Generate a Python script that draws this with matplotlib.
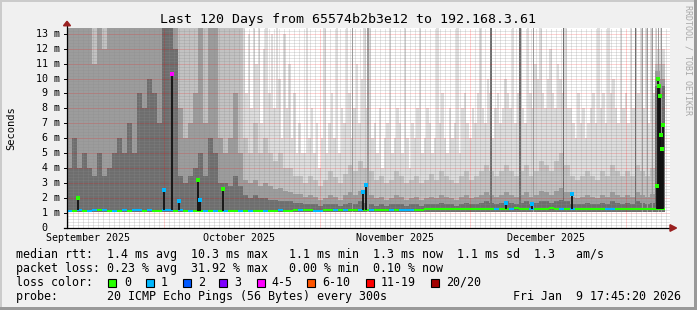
import numpy as np
import matplotlib.pyplot as plt
from matplotlib.patches import Rectangle, Polygon
from datetime import datetime, timedelta

# ---- data ----
now = datetime(2026, 1, 9, 17, 45, 20)
start = now - timedelta(days=120)

# outermost smoke layer (max ping), one value per half day, ms
smoke_l1_half = ([20] * 70 +
                 [14, 9, 13, 8, 14, 11, 14, 7, 12, 14, 9, 13, 8, 14, 10, 6, 13, 8, 11, 6, 9, 5, 7, 5,
                  5, 14, 6, 8, 5, 7,
                  4, 6, 14, 5, 7, 9, 6, 14, 5, 8, 7, 14, 9, 6, 8, 11, 7, 10, 14, 8,
                  14, 6, 7, 5, 8, 4, 6, 7, 14, 5, 6, 8, 7, 5, 14, 6, 4, 7, 6, 8,
                  14, 5, 6, 8, 7, 5, 6, 14, 7, 9, 6, 5, 8, 6, 7, 14, 5, 8, 9, 7,
                  6, 8, 7, 9, 14, 8, 7, 10, 9, 6, 8, 9, 7, 8, 10, 9, 8, 14, 7, 9,
                  14, 8, 7, 14, 9, 8, 11, 10, 14, 9, 8, 10, 12, 9, 8, 11, 10, 9, 14, 8,
                  8, 7, 6, 9, 7, 8, 6, 7, 8, 9, 7, 14, 8, 9, 7, 14, 9, 10, 8, 7,
                  14, 8, 9, 7, 14, 8, 14, 9, 14, 8, 14, 7, 14, 9,
                  20, 12, 20, 12])

# inner smoke layers, one value per day, ms (lighter to darker)
smoke_l2 = [20, 20, 20, 20, 20, 20, 20, 20, 20, 20,
            20, 20, 20, 20, 20, 20, 20, 20, 20, 20,
            20, 20, 20, 20, 20, 20, 20, 20, 20, 20,
            20, 20, 20, 20, 20, 6, 5, 7, 5, 6,
            5, 4.5, 5, 4, 4, 3.5, 3.5, 3, 3.5, 3.2,
            2.8, 3.2, 3.8, 3.4, 3, 3.6, 4.2, 3.8, 4.5, 4,
            3.8, 3.2, 3.5, 3, 3.2, 3.8, 3.5, 3, 3.2, 3.5,
            3, 3.2, 3.6, 3.2, 3.8, 3.5, 3.2, 3, 3.5, 3.8,
            3.2, 3.5, 3.8, 4.2, 3.8, 3.5, 3.8, 4.2, 3.8, 3.5,
            3.8, 4.2, 3.5, 3.8, 4.5, 4.2, 3.8, 4.5, 5, 4.2,
            3.5, 3.2, 3.5, 3.8, 3.5, 3.2, 3.8, 3.5, 4.2, 3.8,
            3.5, 3.8, 3.5, 4.2, 3.8, 3.5, 4, 11, 11]
smoke_l3 = [20, 20, 20, 20, 20, 11, 20, 12, 20, 20,
            20, 20, 20, 20, 20, 20, 20, 20, 20, 20,
            20, 20, 8, 6, 7, 9, 20, 7, 20, 20,
            6, 5, 6, 9, 5, 3.2, 3, 3.2, 2.8, 3,
            2.8, 2.6, 2.7, 2.5, 2.4, 2.3, 2.3, 2.1, 2.2, 2.1,
            1.9, 2, 2.2, 2.1, 1.9, 2.2, 2.4, 2.2, 2.5, 2.3,
            2.2, 2, 2.1, 1.9, 2, 2.2, 2.1, 1.9, 2, 2.1,
            1.9, 2, 2.1, 2, 2.2, 2.1, 2, 1.9, 2.1, 2.2,
            2, 2.1, 2.2, 2.4, 2.2, 2.1, 2.2, 2.4, 2.2, 2.1,
            2.2, 2.4, 2.1, 2.2, 2.5, 2.4, 2.2, 2.5, 2.7, 2.4,
            2.1, 2, 2.1, 2.2, 2.1, 2, 2.2, 2.1, 2.4, 2.2,
            2.1, 2.2, 2.1, 2.4, 2.2, 2.1, 2.3, 10.5, 10]
smoke_l4 = [4, 6, 4, 5, 4, 3.5, 5, 3.5, 4, 5,
            6, 5, 7, 5, 9, 8, 10, 9, 7, 20,
            20, 12, 3.5, 3, 3.5, 4, 5, 3.5, 6, 5,
            3, 3, 2.8, 3.5, 2.8, 2.2, 2, 2.2, 2, 2,
            1.9, 1.9, 1.8, 1.8, 1.8, 1.7, 1.7, 1.6, 1.6, 1.6,
            1.5, 1.6, 1.6, 1.6, 1.5, 1.6, 1.7, 1.6, 1.8, 1.7,
            1.6, 1.5, 1.6, 1.5, 1.6, 1.6, 1.6, 1.5, 1.6, 1.6,
            1.5, 1.6, 1.6, 1.6, 1.7, 1.6, 1.6, 1.5, 1.6, 1.7,
            1.6, 1.6, 1.7, 1.8, 1.7, 1.6, 1.7, 1.8, 1.7, 1.6,
            1.7, 1.8, 1.6, 1.7, 1.8, 1.8, 1.7, 1.8, 1.9, 1.8,
            1.6, 1.6, 1.6, 1.7, 1.6, 1.6, 1.7, 1.6, 1.8, 1.7,
            1.6, 1.7, 1.6, 1.8, 1.7, 1.6, 1.7, 9.5, 9.5]
min_rtt = 1.05

median_rtt = [1.15, 1.15, 1.18, 1.15, 1.15, 1.2, 1.18, 1.2, 1.15, 1.15,
              1.15, 1.18, 1.15, 1.2, 1.18, 1.15, 1.18, 1.15, 1.15, 1.2,
              1.18, 1.15, 1.18, 1.15, 1.15, 1.12, 1.15, 1.15, 1.12, 1.15,
              1.12, 1.15, 1.12, 1.12, 1.15, 1.15, 1.12, 1.15, 1.15, 1.12,
              1.15, 1.15, 1.18, 1.15, 1.15, 1.18, 1.2, 1.18, 1.2, 1.15,
              1.15, 1.18, 1.2, 1.18, 1.2, 1.2, 1.18, 1.2, 1.22, 1.2,
              1.22, 1.2, 1.2, 1.22, 1.2, 1.2, 1.18, 1.2, 1.18, 1.2,
              1.22, 1.25, 1.25, 1.28, 1.25, 1.25, 1.28, 1.25, 1.25, 1.28,
              1.3, 1.28, 1.3, 1.28, 1.3, 1.3, 1.28, 1.3, 1.3, 1.32,
              1.3, 1.28, 1.3, 1.3, 1.28, 1.3, 1.32, 1.3, 1.28, 1.3,
              1.3, 1.28, 1.3, 1.25, 1.28, 1.28, 1.3, 1.28, 1.25, 1.28,
              1.28, 1.3, 1.28, 1.3, 1.28, 1.3, 1.3, 1.3, 1.3]
loss_pings = [1, 0, 1, 0, 1, 1, 0, 1, 0, 1,
              0, 1, 0, 1, 1, 0, 1, 0, 0, 1,
              1, 0, 1, 0, 1, 0, 0, 1, 0, 1,
              0, 1, 0, 0, 1, 0, 1, 0, 0, 1,
              0, 0, 1, 0, 0, 0, 1, 0, 0, 1,
              1, 0, 0, 1, 0, 1, 0, 0, 1, 0,
              1, 0, 0, 0, 1, 0, 1, 1, 1, 0,
              0, 0, 0, 0, 0, 0, 0, 0, 0, 0,
              0, 0, 0, 0, 0, 1, 0, 0, 1, 0,
              0, 0, 1, 0, 0, 0, 0, 0, 1, 0,
              1, 0, 0, 0, 0, 0, 0, 1, 1, 0,
              0, 0, 0, 0, 0, 0, 0, 0, 0]

# short median excursions inside a day: day offset, median ms, lost pings
spike_day = [2.2, 19.3, 20.9, 22.3, 26.1, 26.5, 31.0, 58.9, 59.6, 87.4,
             92.5, 100.5, 117.4, 117.7, 117.9, 118.1, 118.3, 118.5, 118.7]
spike_rtt = [2.0, 2.55, 10.3, 1.8, 3.2, 1.9, 2.6, 2.4, 2.9, 1.7,
             1.6, 2.3, 2.8, 10.0, 9.5, 8.8, 6.2, 5.3, 6.9]
spike_loss = [0, 1, 4, 1, 0, 1, 0, 1, 1, 1,
              1, 1, 0, 0, 0, 0, 0, 0, 0]

# thin darker full-height streaks: day offset, layer (1 mid .. 2 dark)
streak_day = [56.7, 59.7, 84.2, 90.0, 92.7, 98.7, 113.0, 114.4, 115.4, 116.4, 117.6, 118.2]
streak_layer = [1, 1, 2, 2, 1, 2, 2, 1, 1, 1, 1, 1]

loss_labels = ['0', '1', '2', '3', '4-5', '6-10', '11-19', '20/20']
loss_colors = ['#26ff00', '#00b8ff', '#0059ff', '#7e00ff',
               '#ff00ff', '#ff5500', '#ff0000', '#a10000']

title = 'Last 120 Days from 65574b2b3e12 to 192.168.3.61'
rows = ['median rtt:  1.4 ms avg  10.3 ms max   1.1 ms min  1.3 ms now  1.1 ms sd  1.3   am/s',
        'packet loss: 0.23 % avg  31.92 % max   0.00 % min  0.10 % now',
        'loss color:',
        'probe:       20 ICMP Echo Pings (56 Bytes) every 300s']
stamp = 'Fri Jan  9 17:45:20 2026'


def loss_color(n):
    if n <= 3:
        return loss_colors[n]
    if n <= 5:
        return loss_colors[4]
    if n <= 10:
        return loss_colors[5]
    if n < 20:
        return loss_colors[6]
    return loss_colors[7]


def day_of(d):
    return (d - start).total_seconds() / 86400


# ---- figure ----
W, H = 697, 310
fig = plt.figure(figsize=(W / 100, H / 100), dpi=100)
fig.patch.set_facecolor('#f0f0f0')
mono = 'DejaVu Sans Mono'

L, R, T, B = 67, 670, 28, 228
ax = fig.add_axes([L / W, 1 - B / H, (R - L) / W, (B - T) / H])
ax.set_facecolor('white')
ax.set_xlim(0, 120)
ax.set_ylim(0, (B - T) / 14.95)
for s in ax.spines.values():
    s.set_visible(False)
ax.set_xticks([])
ax.set_yticks([])
ymax = ax.get_ylim()[1]

# smoke
half = np.arange(len(smoke_l1_half)) * 0.5
ax.bar(half, np.array(smoke_l1_half) - min_rtt, bottom=min_rtt, width=0.5, align='edge',
       color='#dddddd', linewidth=0, antialiased=False, zorder=1)
days = np.arange(len(smoke_l2))
layer_colors = ['#c2c2c2', '#9c9c9c', '#6e6e6e']
for top, c in zip([smoke_l2, smoke_l3, smoke_l4], layer_colors):
    ax.bar(days, np.array(top) - min_rtt, bottom=min_rtt, width=1, align='edge',
           color=c, linewidth=0, antialiased=False, zorder=1)
for d, k in zip(streak_day, streak_layer):
    ax.bar(d, 20 - min_rtt, bottom=min_rtt, width=0.3, align='edge',
           color=layer_colors[k], linewidth=0, zorder=1.5)

# grid on top of the smoke
for y in np.arange(0.2, ymax, 0.2):
    if abs(y - round(y)) > 0.01:
        ax.axhline(y, color='#8c8c8c', lw=0.72, ls=(0, (1, 1)), alpha=0.45, zorder=2)
for k in range(1, 14):
    ax.axhline(k, color='#ff0000', lw=0.72, ls=(0, (1, 1)), alpha=0.35, zorder=2)
d0 = datetime(2025, 9, 12)
while day_of(d0) < 120:
    if d0.day != 1:
        ax.axvline(day_of(d0), color='#8c8c8c', lw=0.72, ls=(0, (1, 1)), alpha=0.45, zorder=2)
    d0 += timedelta(days=1)
for m in [datetime(2025, 10, 1), datetime(2025, 11, 1),
          datetime(2025, 12, 1), datetime(2026, 1, 1)]:
    ax.axvline(day_of(m), color='#ff0000', lw=0.72, ls=(0, (1, 1)), alpha=0.35, zorder=2)

# median line coloured by loss
ax.hlines(median_rtt, days, days + 1, colors=[loss_color(n) for n in loss_pings],
          linewidth=1.5, zorder=4)
for d, v, n in zip(spike_day, spike_rtt, spike_loss):
    base = median_rtt[int(d)]
    ax.vlines(d, base, v, color='#111111', lw=1.3, zorder=4)
    ax.plot([d], [v], 's', ms=2.2, mew=0, color=loss_color(n), zorder=5)

# axes with arrows
ax.plot([-0.6, 120.2], [0, 0], color='black', lw=0.9, clip_on=False, zorder=6)
ax.plot([0, 0], [0, ymax + 0.2], color='black', lw=0.9, clip_on=False, zorder=6)
ax.add_patch(Polygon([(-0.7, ymax + 0.15), (0.7, ymax + 0.15), (0, ymax + 0.45)],
                     closed=True, color='#9a2020', clip_on=False, zorder=7))
ax.add_patch(Polygon([(120.0, -0.22), (120.0, 0.22), (121.3, 0)],
                     closed=True, color='#9a2020', clip_on=False, zorder=7))

# y labels
for k in range(1, 14):
    ax.text(-1.4, k, f'{k} m', ha='right', va='center', fontsize=7.2, family=mono)
ax.text(-3.9, 0, '0', ha='right', va='center', fontsize=7.2, family=mono)
for k in range(0, 14):
    ax.plot([-0.5, 0], [k, k], color='black', lw=0.7, clip_on=False, zorder=6)

# month labels centred mid-month
for m in [datetime(2025, 9, 16), datetime(2025, 10, 16),
          datetime(2025, 11, 16), datetime(2025, 12, 16)]:
    ax.text(day_of(m), -0.65, m.strftime('%B %Y'), ha='center', va='center',
            fontsize=7.2, family=mono)

fig.text(11 / W, 1 - 128 / H, 'Seconds', rotation=90, ha='center', va='center',
         fontsize=7.5, family=mono)
fig.text(348 / W, 1 - 19 / H, title, ha='center', va='center', fontsize=9.5, family=mono)
fig.text(688 / W, 1 - 5 / H, 'RRDTOOL / TOBI OETIKER', rotation=-90, ha='center', va='top',
         fontsize=6, family=mono, color='#a8a8a8')

# legend
for i, r in enumerate(rows):
    fig.text(16 / W, 1 - (254.3 + 14 * i) / H, r, ha='left', va='center',
             fontsize=8.4, family=mono)
box_x = [108, 146, 183, 219, 257, 307, 366, 431]
lab_x = [124, 161, 198, 234, 271, 322, 381, 446]
for bx, lx, lab, c in zip(box_x, lab_x, loss_labels, loss_colors):
    fig.patches.append(Rectangle((bx / W, 1 - 286.5 / H), 8 / W, 8 / H,
                                 transform=fig.transFigure, facecolor=c,
                                 edgecolor='black', linewidth=0.8))
    fig.text(lx / W, 1 - 282.3 / H, lab, ha='left', va='center', fontsize=8.4, family=mono)
fig.text(681 / W, 1 - 296.3 / H, stamp, ha='right', va='center', fontsize=8.4, family=mono)

# border shading
for (x, y, w, h, c) in [(0, 0, 2, H, '#cbcbcb'), (0, 0, W, 2, '#cbcbcb'),
                        (W - 3, 0, 3, H, '#999999'), (0, H - 3, W, 3, '#999999')]:
    fig.patches.append(Rectangle((x / W, 1 - (y + h) / H), w / W, h / H,
                                 transform=fig.transFigure, facecolor=c, linewidth=0))

fig.savefig('out.png', dpi=100, facecolor=fig.get_facecolor())
